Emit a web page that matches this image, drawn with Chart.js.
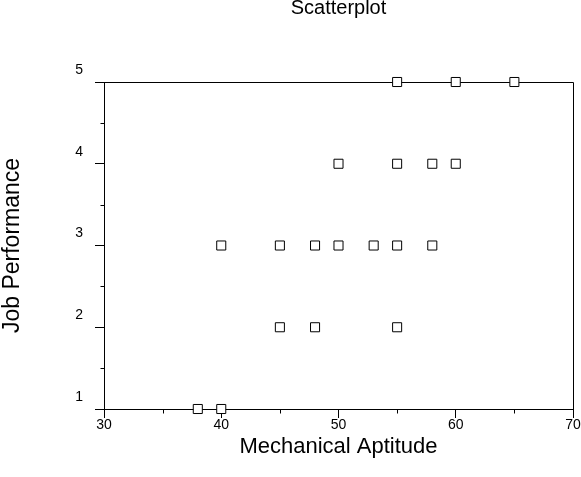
<!DOCTYPE html>
<html>
<head>
<meta charset="utf-8">
<title>Scatterplot</title>
<script src="https://cdn.jsdelivr.net/npm/chart.js@4.4.1/dist/chart.umd.min.js"></script>
<style>
    html, body { margin: 0; padding: 0; background: #fff; }
    #wrap { width: 581px; height: 477px; }
</style>
</head>
<body>
<div id="wrap"><canvas id="scatterChart" width="581" height="477"></canvas></div>
<script>
// Data
const aptitude    = [38, 40, 40, 45, 48, 50, 53, 55, 58, 45, 48, 55, 50, 55, 58, 60, 55, 60, 65];
const performance = [ 1,  1,  3,  3,  3,  3,  3,  3,  3,  2,  2,  2,  4,  4,  4,  4,  5,  5,  5];

// Tick labels
const xTicks = [30, 40, 50, 60, 70];
const yTicks = [1, 2, 3, 4, 5];
const xMinorTicks = [35, 45, 55, 65];
const yMinorTicks = [1.5, 2.5, 3.5, 4.5];

const FONT = '"Liberation Sans", Arial, sans-serif';

// Minor ticks + top/right edges of the frame
const frameAndMinorTicks = {
    id: 'frameAndMinorTicks',
    beforeDatasetsDraw(chart) {
        const { ctx, chartArea, scales } = chart;
        const left = Math.round(chartArea.left) + 0.5;
        const right = Math.round(chartArea.right) + 0.5;
        const top = Math.round(chartArea.top) + 0.5;
        const bottom = Math.round(chartArea.bottom) + 0.5;

        ctx.save();
        ctx.strokeStyle = '#000';
        ctx.lineWidth = 1;
        ctx.beginPath();
        xMinorTicks.forEach(v => {
            const x = Math.round(scales.x.getPixelForValue(v)) + 0.5;
            ctx.moveTo(x, bottom);
            ctx.lineTo(x, bottom + 4);
        });
        yMinorTicks.forEach(v => {
            const y = Math.round(scales.y.getPixelForValue(v)) + 0.5;
            ctx.moveTo(left - 4, y);
            ctx.lineTo(left, y);
        });
        ctx.moveTo(left, top);
        ctx.lineTo(right, top);
        ctx.lineTo(right, bottom);
        ctx.stroke();
        ctx.restore();
    }
};

const points = aptitude.map((x, i) => ({ x: x, y: performance[i] }));

new Chart(document.getElementById('scatterChart'), {
    type: 'scatter',
    data: {
        datasets: [{
            data: points,
            pointStyle: 'rect',
            pointRadius: 6.4,
            pointHoverRadius: 6.4,
            backgroundColor: '#fff',
            borderColor: '#000',
            borderWidth: 1,
            clip: false
        }]
    },
    options: {
        responsive: false,
        animation: false,
        events: [],
        layout: { padding: { top: 0, left: 0, right: 8, bottom: 0 } },
        plugins: {
            legend: { display: false },
            tooltip: { enabled: false },
            title: {
                display: true,
                text: 'Scatterplot',
                fullSize: false,
                color: '#000',
                font: { family: FONT, size: 20, weight: 'normal', lineHeight: 0.8 },
                padding: { top: 0, bottom: 66 }
            }
        },
        scales: {
            x: {
                type: 'linear',
                min: 30,
                max: 70,
                afterBuildTicks: axis => { axis.ticks = xTicks.map(v => ({ value: v })); },
                afterFit: axis => { axis.height = 68; },
                border: { display: true, color: '#000', width: 1 },
                grid: { drawOnChartArea: false, drawTicks: true, tickLength: 9, tickColor: '#000' },
                ticks: {
                    color: '#000',
                    padding: 0,
                    maxRotation: 0,
                    font: { family: FONT, size: 14, lineHeight: 1 }
                },
                title: {
                    display: true,
                    text: 'Mechanical Aptitude',
                    color: '#000',
                    font: { family: FONT, size: 22, lineHeight: 1 },
                    padding: { top: 0, bottom: 19 }
                }
            },
            y: {
                type: 'linear',
                min: 1,
                max: 5,
                afterBuildTicks: axis => { axis.ticks = yTicks.map(v => ({ value: v })); },
                afterFit: axis => { axis.width = 104; },
                border: { display: true, color: '#000', width: 1 },
                grid: { drawOnChartArea: false, drawTicks: true, tickLength: 9, tickColor: '#000' },
                ticks: {
                    color: '#000',
                    padding: 12,
                    labelOffset: -12,
                    font: { family: FONT, size: 14, lineHeight: 1 }
                },
                title: {
                    display: true,
                    text: 'Job Performance',
                    color: '#000',
                    font: { family: FONT, size: 23, lineHeight: 1 },
                    padding: { top: 1, bottom: 0 }
                }
            }
        }
    },
    plugins: [frameAndMinorTicks]
});
</script>
</body>
</html>
